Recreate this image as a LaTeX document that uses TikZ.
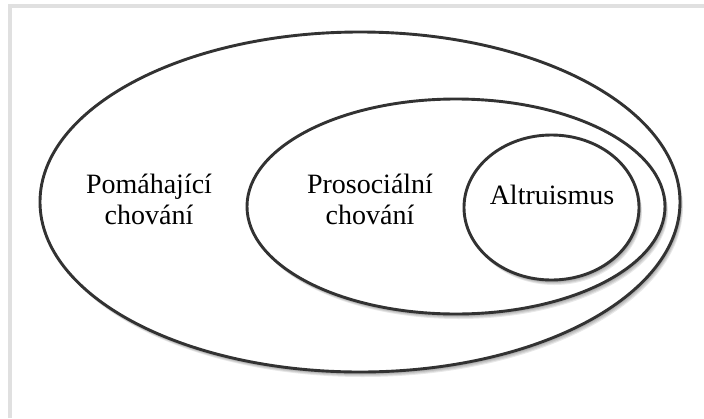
\documentclass[tikz,border=0pt]{standalone}
\usepackage{fontspec}
\setmainfont{Liberation Serif}
\usepackage{tikz}
\usetikzlibrary{positioning}
\definecolor{myframe}{RGB}{224, 224, 224}
\definecolor{myline}{RGB}{50, 50, 50}
\tikzset{ring/.style = {draw = myline, line width = 2.9, fill = white},
         shadowlayer/.style = {fill = black, opacity = 0.09},
         lbl/.style = {align = center, inner sep = 0, font = \rmfamily\fontsize{28}{31}\selectfont}}

\begin{document}
\begin{tikzpicture}[x = 1pt, y = -1pt]
\useasboundingbox (0,0) rectangle (704,418);
\fill[white] (0,0) rectangle (704,418);
\draw[myframe, line width = 4] (10,418) -- (10,6) -- (704,6);
% outer set
\foreach \d in {1,...,5}
  \fill[shadowlayer, shift = {(0.6*\d,\d)}] (360,202) ellipse [x radius = 320, y radius = 170];
\draw[ring] (360,202) ellipse [x radius = 320, y radius = 170];
% middle set
\foreach \d in {1,...,5}
  \fill[shadowlayer, shift = {(0.6*\d,\d)}] (456,206.5) ellipse [x radius = 209, y radius = 107.5];
\draw[ring] (456,206.5) ellipse [x radius = 209, y radius = 107.5];
% inner set
\foreach \d in {1,...,5}
  \fill[shadowlayer, shift = {(0.6*\d,\d)}] (551.5,207.5) ellipse [x radius = 87.5, y radius = 72.5];
\draw[ring] (551.5,207.5) ellipse [x radius = 87.5, y radius = 72.5];
\node[lbl] (helping) at (149,199) {Pomáhající\\chování};
\node[lbl] (prosocial) at (370,199) {Prosociální\\chování};
\node[lbl, anchor = base] (altruism) at (552,204) {Altruismus};
\end{tikzpicture}
\end{document}
